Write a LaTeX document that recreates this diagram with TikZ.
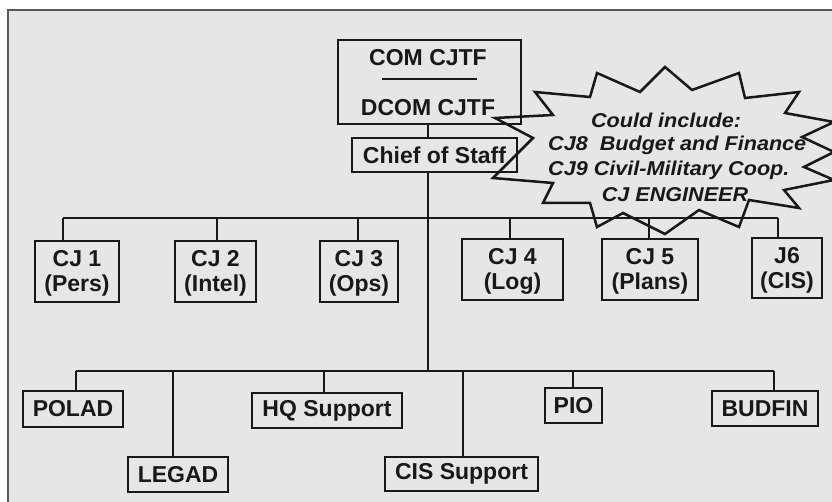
\documentclass[tikz,border=0pt]{standalone}
\usepackage{fontspec}
\setmainfont{Liberation Sans}
\newfontfamily\starfont[FakeStretch=1.08]{Liberation Sans}
\definecolor{bg}{HTML}{E6E6E6}
\definecolor{ink}{HTML}{181818}
\definecolor{frame}{HTML}{5A5A5A}
\newcommand\cjtwolines[2]{\raisebox{-3pt}[\height][\depth]{\begin{tabular}{@{}c@{}}#1\\#2\end{tabular}}}
\tikzset{
  orgbox/.style={draw=ink, line width=1.9pt, rectangle, inner sep=0pt, text=ink,
    font=\bfseries\fontsize{23}{25}\selectfont, align=center},
  lbl/.style={inner sep=0pt, text=ink, font=\bfseries\fontsize{23}{25}\selectfont},
  conn/.style={draw=ink, line width=1.7pt},
  startext/.style={inner sep=0pt, text=ink, font=\starfont\bfseries\itshape\fontsize{20}{25}\selectfont},
  starline/.style={draw=ink, line width=2.5pt, line join=miter, miter limit=20}
}
\begin{document}
\begin{tikzpicture}[x=1pt,y=-1pt]
\useasboundingbox (0,0) rectangle (832,502);
\fill[white] (0,0) rectangle (832,502);
\fill[bg] (8,10) rectangle (832,502);
\draw[frame, line width=2pt] (8,502) -- (8,10) -- (832,10);

% top boxes
\node[orgbox, minimum width=183pt, minimum height=84pt] (com) at (429.5,82) {};
\node[lbl] (comt) at (428,58) {COM CJTF};
\node[lbl] (dcomt) at (428,108) {DCOM CJTF};
\coordinate (sepL) at (382,79);
\coordinate (sepR) at (477,79);
\draw[conn] (sepL) -- (sepR);
\node[orgbox, minimum width=165pt, minimum height=34pt] (chief) at (434.5,155) {Chief of Staff};

% trunk
\coordinate (tr) at (428,0);
\coordinate (bus1) at (428,218);
\coordinate (bus2) at (428,371);
\draw[conn] (com.south -| tr) -- (chief.north -| tr);
\draw[conn] (chief.south -| tr) -- (bus2);

% row 1
\node[orgbox, minimum width=84pt, minimum height=61pt] (cj1) at (77,271.5) {\cjtwolines{CJ 1}{(Pers)}};
\node[orgbox, minimum width=81pt, minimum height=61pt] (cj2) at (215.5,271.5) {\cjtwolines{CJ 2}{(Intel)}};
\node[orgbox, minimum width=78pt, minimum height=61pt] (cj3) at (359,271.5) {\cjtwolines{CJ 3}{(Ops)}};
\node[orgbox, minimum width=101pt, minimum height=61pt] (cj4) at (512.5,269.5) {\cjtwolines{CJ 4}{(Log)}};
\node[orgbox, minimum width=96pt, minimum height=61pt] (cj5) at (650,269.5) {\cjtwolines{CJ 5}{(Plans)}};
\node[orgbox, minimum width=70pt, minimum height=60pt] (j6) at (787,268) {\cjtwolines{J6}{(CIS)}};
\coordinate (a1) at (63,218);
\coordinate (a2) at (217,218);
\coordinate (a3) at (358,218);
\coordinate (a4) at (510,218);
\coordinate (a5) at (649,218);
\coordinate (a6) at (778,218);
\draw[conn] (a1) -- (a6);
\draw[conn] (a1) -- (cj1.north -| a1);
\draw[conn] (a2) -- (cj2.north -| a2);
\draw[conn] (a3) -- (cj3.north -| a3);
\draw[conn] (a4) -- (cj4.north -| a4);
\draw[conn] (a5) -- (cj5.north -| a5);
\draw[conn] (a6) -- (j6.north -| a6);

% row 2
\node[orgbox, minimum width=100pt, minimum height=36pt] (polad) at (73,409) {POLAD};
\node[orgbox, minimum width=100pt, minimum height=35pt] (legad) at (178,474.5) {LEGAD};
\node[orgbox, minimum width=150pt, minimum height=35pt] (hq) at (327,410.5) {HQ Support};
\node[orgbox, minimum width=153pt, minimum height=34pt] (cis) at (461.5,474) {CIS Support};
\node[orgbox, minimum width=57pt, minimum height=35pt] (pio) at (573.5,405.5) {PIO};
\node[orgbox, minimum width=106pt, minimum height=35pt] (budfin) at (765,408.5) {BUDFIN};
\coordinate (c1) at (76,371);
\coordinate (c2) at (173,371);
\coordinate (c3) at (324,371);
\coordinate (c4) at (463,371);
\coordinate (c5) at (573,371);
\coordinate (c6) at (774,371);
\draw[conn] (c1) -- (c6);
\draw[conn] (c1) -- (polad.north -| c1);
\draw[conn] (c2) -- (legad.north -| c2);
\draw[conn] (c3) -- (hq.north -| c3);
\draw[conn] (c4) -- (cis.north -| c4);
\draw[conn] (c5) -- (pio.north -| c5);
\draw[conn] (c6) -- (budfin.north -| c6);

% starburst
\draw[starline] (665,67) -- (692,90) -- (739,73) -- (745,98) -- (799,92) -- (785,113)
  -- (834,122) -- (802,137) -- (834,152) -- (804,167) -- (834,180) -- (784,190)
  -- (799,208) -- (749,200) -- (739,227) -- (699,210) -- (665,234) -- (623,213)
  -- (597,227) -- (590,203) -- (543,203) -- (553,183) -- (493,178) -- (533,138)
  -- (495,118) -- (553,115) -- (535,92) -- (590,97) -- (597,73) -- (640,92) -- cycle;
\node[startext] (s1) at (666,120) {Could include:};
\node[startext, anchor=west] (s2) at (548,145) {CJ8\ \ Budget and Finance};
\node[startext, anchor=west] (s3) at (548,170) {CJ9 Civil-Military Coop.};
\node[startext] (s4) at (675,195) {CJ ENGINEER};
\end{tikzpicture}
\end{document}
